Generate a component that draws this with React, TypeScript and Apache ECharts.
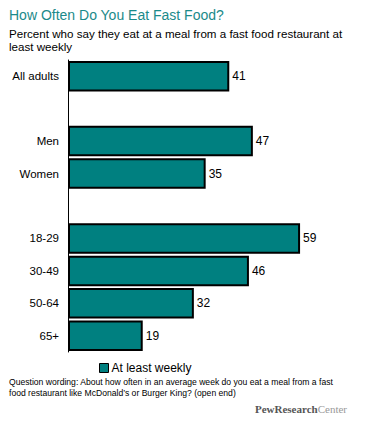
import React, { useEffect, useRef } from "react";
import * as echarts from "echarts";

const categories = ["All adults", "", "Men", "Women", " ", "18-29", "30-49", "50-64", "65+"];
const values: (number | null)[] = [41, null, 47, 35, null, 59, 46, 32, 19];
const seriesName = "At least weekly";
const titleText = "How Often Do You Eat Fast Food?";
const subtitleLines = [
  "Percent who say they eat at a meal from a fast food restaurant at",
  "least weekly",
];
const footerLines = [
  "Question wording: About how often in an average week do you eat a meal from a fast",
  "food restaurant like McDonald\u2019s or Burger King? (open end)",
];

const FONT = "Liberation Sans";

export default function App() {
  const ref = useRef<HTMLDivElement>(null);
  useEffect(() => {
    document.body.style.margin = "0";
    if (!ref.current) return;
    const chart = echarts.init(ref.current, undefined, { renderer: "svg" });
    chart.setOption({
      animation: false,
      backgroundColor: "#ffffff",
      textStyle: { fontFamily: FONT },
      grid: { left: 68, top: 60, height: 292, width: 295, containLabel: false },
      xAxis: { type: "value", min: 0, max: 75, show: false },
      yAxis: {
        type: "category",
        data: categories,
        inverse: true,
        axisLine: { show: true, lineStyle: { color: "#000", width: 1 } },
        axisTick: { show: false },
        splitLine: { show: false },
        axisLabel: { color: "#000", fontSize: 11.5, margin: 9, fontFamily: FONT },
      },
      legend: {
        left: 99,
        top: 362,
        padding: 0,
        itemWidth: 9,
        itemHeight: 9,
        itemGap: 4,
        icon: "rect",
        textStyle: { color: "#000", fontSize: 12, fontFamily: FONT, padding: [0, 0, 0, -2] },
        data: [{ name: seriesName, itemStyle: { color: "#008080", borderColor: "#000", borderWidth: 1 } }],
      },
      series: [
        {
          type: "bar",
          name: seriesName,
          data: values,
          barCategoryGap: "6%",
          itemStyle: { color: "#008080", borderColor: "#000", borderWidth: 2 },
          label: {
            show: true,
            position: "right",
            distance: 3,
            color: "#000",
            fontSize: 12,
            fontFamily: FONT,
          },
        },
      ],
      graphic: [
        {
          type: "text",
          left: 9,
          top: 8,
          style: { text: titleText, fill: "#1b8a8a", font: `14px '${FONT}'` },
        },
        {
          type: "text",
          left: 9,
          top: 27,
          style: { text: subtitleLines.join("\n"), fill: "#000", font: `11.6px '${FONT}'`, lineHeight: 13 },
        },
        {
          type: "text",
          left: 9,
          top: 376,
          style: { text: footerLines.join("\n"), fill: "#000", font: `8.6px '${FONT}'`, lineHeight: 11.5 },
        },
        {
          type: "text",
          right: 19,
          top: 403,
          style: {
            text: "{a|PewResearch}{b|Center}",
            rich: {
              a: { fill: "#555", font: `bold 11px 'Liberation Serif'` },
              b: { fill: "#999", font: `11px 'Liberation Serif'` },
            },
          },
        },
      ],
    });
    return () => chart.dispose();
  }, []);
  return <div ref={ref} style={{ width: 366, height: 421 }} />;
}
